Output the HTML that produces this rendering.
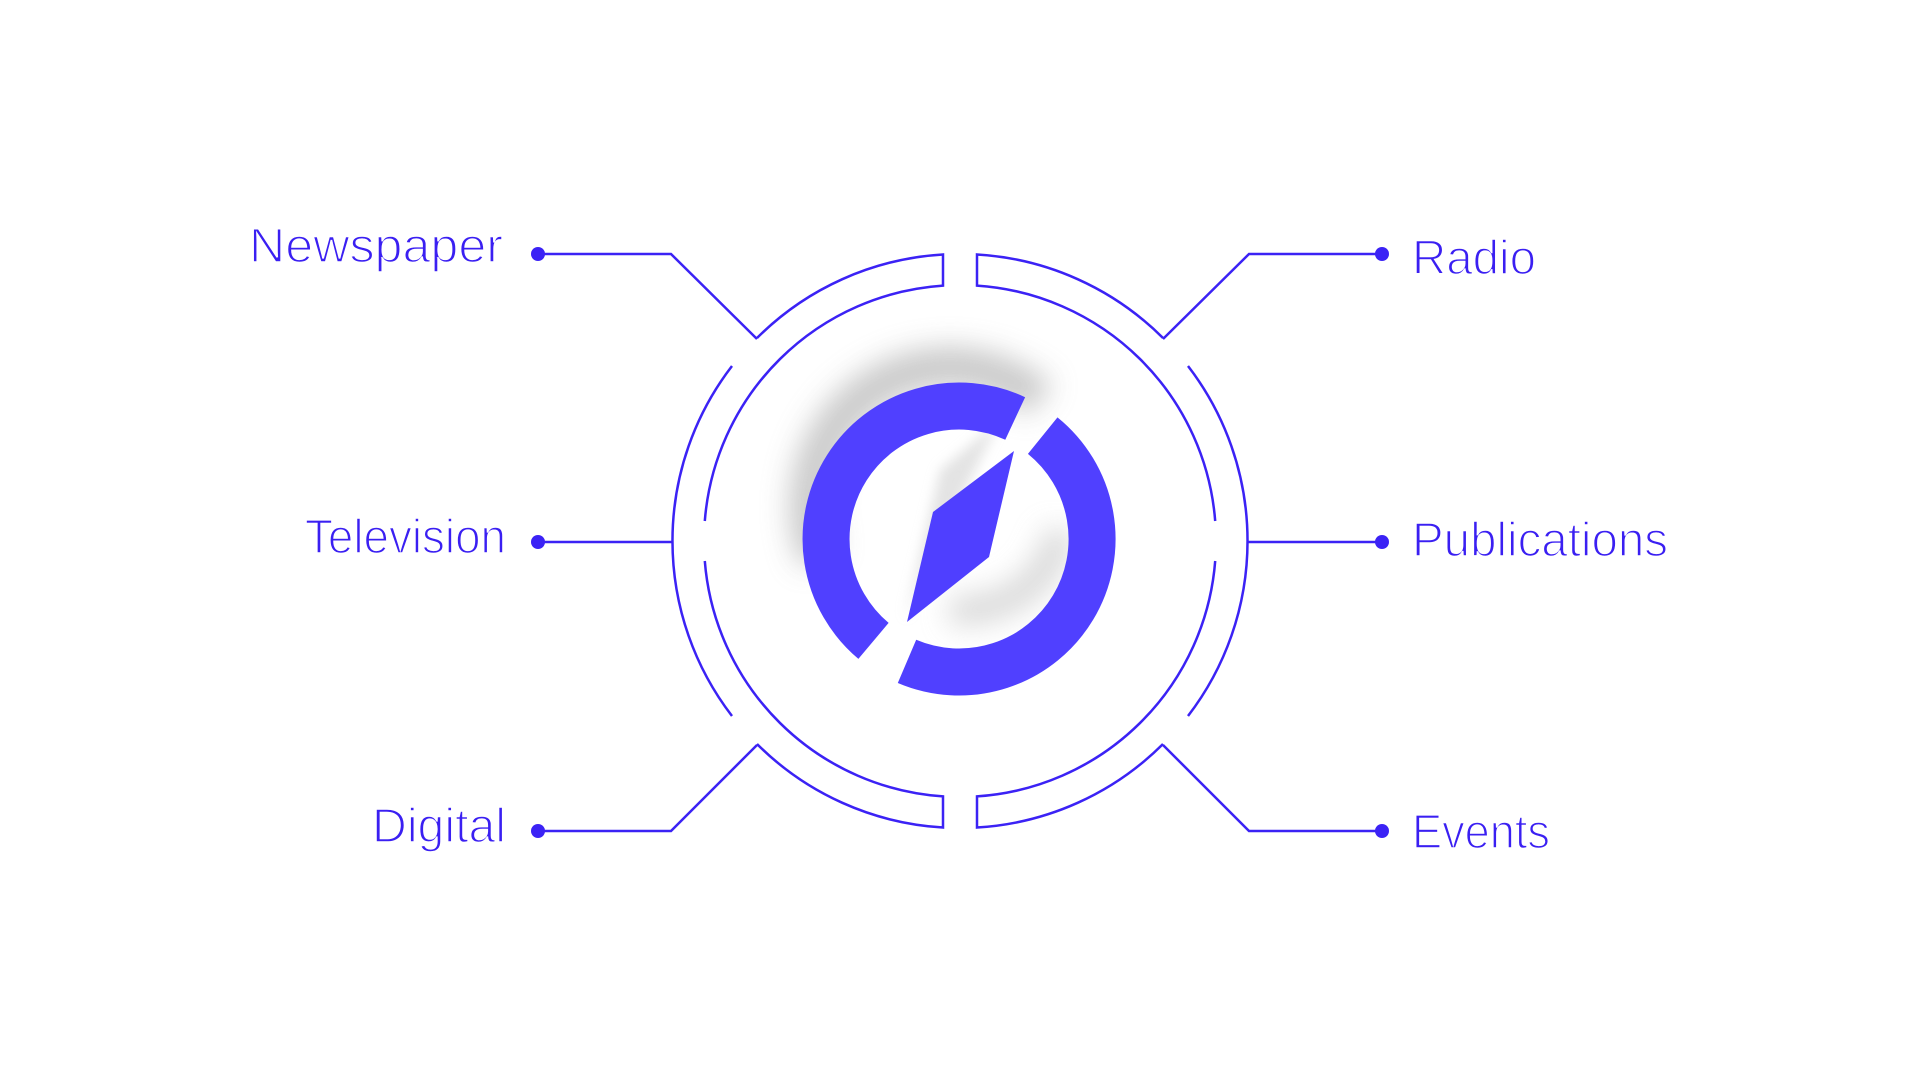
<!DOCTYPE html>
<html><head><meta charset="utf-8"><style>
html,body{margin:0;padding:0;background:#fff;width:1920px;height:1080px;overflow:hidden}
text{font-family:"Liberation Sans",sans-serif;fill:#3a1ff2;font-size:48px;stroke:#fff;stroke-width:1.6px;}
</style></head><body>
<svg width="1920" height="1080" viewBox="0 0 1920 1080" xmlns="http://www.w3.org/2000/svg">
<defs>
<filter id="b" x="-50%" y="-50%" width="200%" height="200%"><feGaussianBlur stdDeviation="14"/></filter>
<filter id="b2" x="-50%" y="-50%" width="200%" height="200%"><feGaussianBlur stdDeviation="6"/></filter>
</defs>
<g fill="none" stroke="#3b22f5" stroke-width="2.5">
<path d="M757,338 A287,287 0 0 1 943,254.5 L943,285.6 A256,256 0 0 0 704.8,521"/>
<path d="M704.8,561 A256,256 0 0 0 943,796.4 L943,827.5 A287,287 0 0 1 757,744"/>
<path d="M732,366 A287,287 0 0 0 732,716"/>
<path d="M1163,338 A287,287 0 0 0 977,254.5 L977,285.6 A256,256 0 0 1 1215.2,521"/>
<path d="M1215.2,561 A256,256 0 0 1 977,796.4 L977,827.5 A287,287 0 0 0 1163,744"/>
<path d="M1188,366 A287,287 0 0 1 1188,716"/>
<path d="M538,254 L671,254 L757,339"/>
<path d="M538,542 L673,542"/>
<path d="M538,831 L671,831 L757,745"/>
<path d="M1382,254 L1249,254 L1163,339"/>
<path d="M1382,542 L1247,542"/>
<path d="M1382,831 L1249,831 L1163,745"/>
</g>
<g fill="#3b22f5">
<circle cx="538" cy="254" r="7"/><circle cx="538" cy="542" r="7"/><circle cx="538" cy="831" r="7"/>
<circle cx="1382" cy="254" r="7"/><circle cx="1382" cy="542" r="7"/><circle cx="1382" cy="831" r="7"/>
</g>
<path d="M820,560 A140,140 0 0 1 1040,400" fill="none" stroke="#c4c4c4" stroke-width="40" filter="url(#b)" opacity="0.9"/>
<path d="M1060,530 A100,90 0 0 1 950,610" fill="none" stroke="#d0d0d0" stroke-width="30" filter="url(#b)" opacity="0.8"/>
<polygon points="1000,420 940,470 905,620 930,560" fill="#d8d8d8" filter="url(#b2)" opacity="0.7"/>
<g fill="none" stroke="#5040ff" stroke-width="47">
<path d="M873.5,640.9 A133,133 0 0 1 1015.2,418.5"/>
<path d="M1042.7,435.6 A133,133 0 0 1 907,661.4"/>
</g>
<polygon points="1014,451 989,557 907,622 933,512" fill="#4f3fff"/>
<text x="249" y="262" textLength="254" lengthAdjust="spacingAndGlyphs">Newspaper</text>
<text x="305" y="553" textLength="201" lengthAdjust="spacingAndGlyphs">Television</text>
<text x="372" y="842" textLength="134" lengthAdjust="spacingAndGlyphs">Digital</text>
<text x="1412" y="274" textLength="124" lengthAdjust="spacingAndGlyphs">Radio</text>
<text x="1412" y="556" textLength="256" lengthAdjust="spacingAndGlyphs">Publications</text>
<text x="1412" y="848" textLength="138" lengthAdjust="spacingAndGlyphs">Events</text>
</svg>
</body></html>
